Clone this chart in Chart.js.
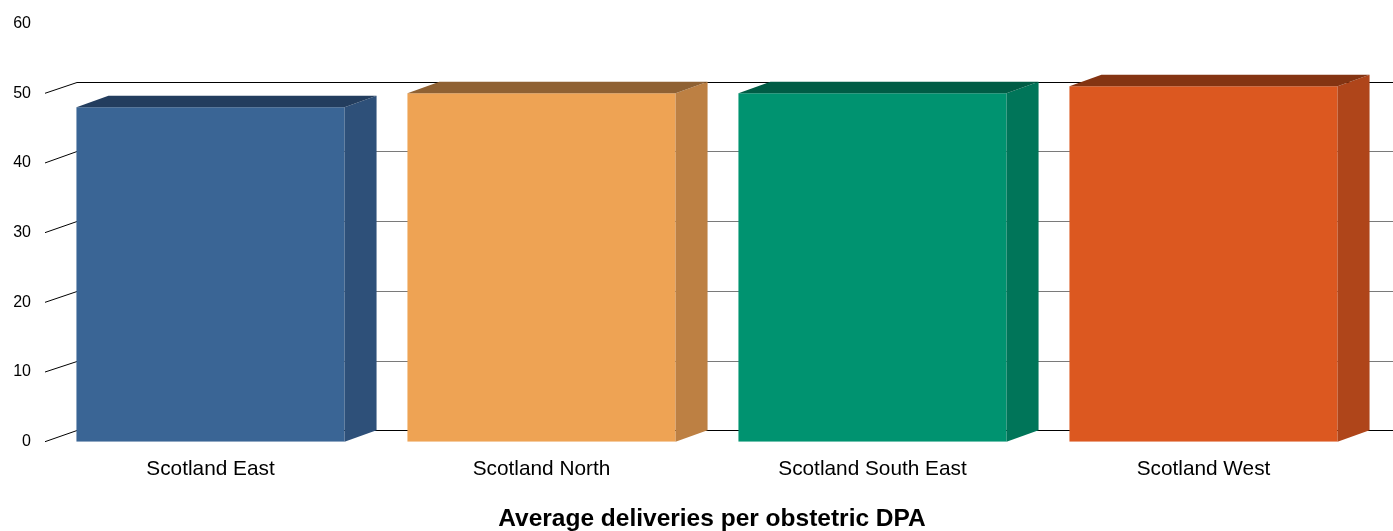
<!DOCTYPE html>
<html>
<head>
<meta charset="utf-8">
<script src="https://cdn.jsdelivr.net/npm/chart.js@4/dist/chart.umd.min.js"></script>
<style>
  html, body { margin: 0; padding: 0; background: #ffffff; }
  #wrap { width: 1393px; height: 531px; position: relative; }
</style>
</head>
<body>
<div id="wrap"><canvas id="c" width="1393" height="531"></canvas></div>
<script>
const categories = ["Scotland East", "Scotland North", "Scotland South East", "Scotland West"];
const values = [48, 50, 50, 51];
const frontColors = ["#3A6595", "#EEA354", "#009370", "#DC5820"];
const sideColors  = ["#2E5079", "#BD8043", "#007559", "#AF451A"];
const topColors   = ["#233D5E", "#8F6133", "#005C45", "#843412"];
const yTicks = [0, 10, 20, 30, 40, 50, 60];
const titleText = "Average deliveries per obstetric DPA";

const DX = 32, DY = 11.5;

const threeD = {
  id: 'threeD',
  beforeDatasetsDraw(chart) {
    const ctx = chart.ctx, y = chart.scales.y, area = chart.chartArea;
    ctx.save();
    yTicks.forEach(v => {
      if (v === 60) return;
      const py = y.getPixelForValue(v);
      const by = Math.round(py - DY) + 0.5;
      ctx.lineWidth = 1;
      ctx.strokeStyle = (v === 0 || v === 50) ? '#000000' : '#7a7a7a';
      ctx.beginPath();
      ctx.moveTo(area.left + DX, by);
      ctx.lineTo(chart.width, by);
      ctx.stroke();
      ctx.strokeStyle = '#000000';
      ctx.beginPath();
      ctx.moveTo(area.left, py);
      ctx.lineTo(area.left + DX, by);
      ctx.stroke();
    });
    ctx.restore();
  },
  afterDatasetsDraw(chart) {
    const ctx = chart.ctx;
    const meta = chart.getDatasetMeta(0);
    ctx.save();
    meta.data.forEach((bar, i) => {
      const p = bar.getProps(['x', 'y', 'base', 'width'], true);
      const x0 = p.x - p.width / 2, x1 = p.x + p.width / 2;
      const top = p.y, bot = p.base;
      ctx.fillStyle = sideColors[i];
      ctx.beginPath();
      ctx.moveTo(x1, top);
      ctx.lineTo(x1 + DX, top - DY);
      ctx.lineTo(x1 + DX, bot - DY);
      ctx.lineTo(x1, bot);
      ctx.closePath();
      ctx.fill();
      ctx.fillStyle = topColors[i];
      ctx.beginPath();
      ctx.moveTo(x0, top);
      ctx.lineTo(x0 + DX, top - DY);
      ctx.lineTo(x1 + DX, top - DY);
      ctx.lineTo(x1, top);
      ctx.closePath();
      ctx.fill();
    });
    ctx.restore();
  },
  afterDraw(chart) {
    const ctx = chart.ctx;
    ctx.save();
    ctx.fillStyle = '#000000';
    ctx.font = 'bold 24.5px "Liberation Sans", Arial, sans-serif';
    ctx.textAlign = 'center';
    ctx.textBaseline = 'middle';
    ctx.fillText(titleText, 712, 519);
    ctx.restore();
  }
};

new Chart(document.getElementById('c'), {
  type: 'bar',
  data: {
    labels: categories,
    datasets: [{
      data: values,
      backgroundColor: frontColors,
      borderWidth: 0,
      categoryPercentage: 1.0,
      barPercentage: 0.81
    }]
  },
  options: {
    responsive: false,
    animation: false,
    devicePixelRatio: 1,
    layout: { padding: { top: 21, right: 24, left: 0, bottom: 0 } },
    plugins: {
      legend: { display: false },
      tooltip: { enabled: false },
      title: { display: false, text: titleText }
    },
    scales: {
      x: {
        grid: { display: false, drawTicks: false },
        border: { display: false },
        ticks: {
          color: '#000000',
          padding: 15,
          font: { family: 'Liberation Sans, Arial, sans-serif', size: 20.8 }
        },
        afterFit(scale) { scale.height = 89.3; }
      },
      y: {
        min: 0, max: 60,
        grid: { display: false, drawTicks: false },
        border: { display: false },
        afterBuildTicks(scale) { scale.ticks = yTicks.map(v => ({ value: v })); },
        ticks: {
          color: '#000000',
          padding: 14,
          font: { family: 'Liberation Sans, Arial, sans-serif', size: 16 }
        },
        afterFit(scale) { scale.width = 45; }
      }
    }
  },
  plugins: [threeD]
});
</script>
</body>
</html>
